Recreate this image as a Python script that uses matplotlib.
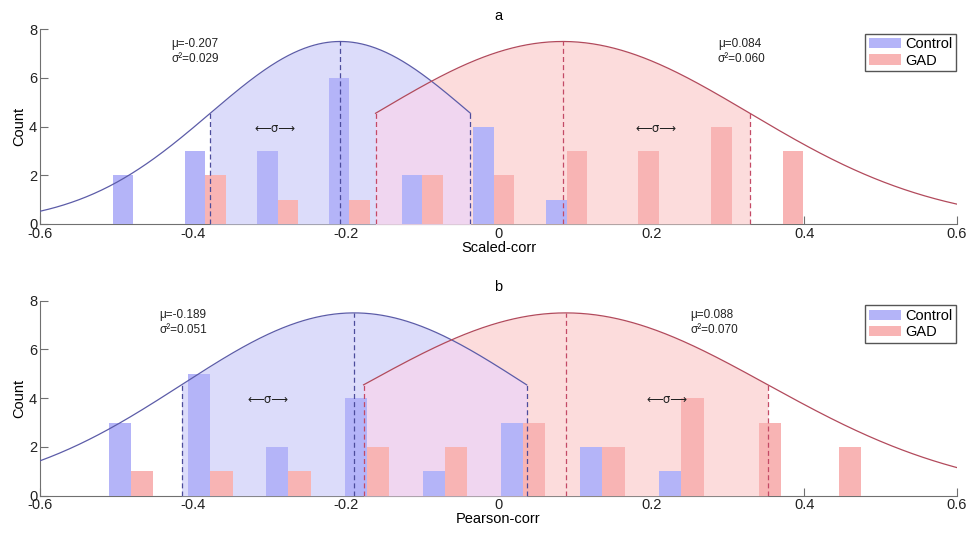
import numpy as np
import matplotlib.pyplot as plt

plt.rcParams['font.family'] = ['Liberation Sans', 'DejaVu Sans']

# panel a: Scaled-corr
a_centers = [-0.478, -0.384, -0.289, -0.195, -0.100, -0.006, 0.089, 0.183, 0.278, 0.372]
a_control = [2, 3, 3, 6, 2, 4, 1, 0, 0, 0]
a_gad = [0, 2, 1, 1, 2, 2, 3, 3, 4, 3]
a_mu = [-0.207, 0.084]
a_var = [0.029, 0.060]

# panel b: Pearson-corr
b_centers = [-0.481, -0.377, -0.275, -0.172, -0.070, 0.032, 0.136, 0.239, 0.341, 0.445]
b_control = [3, 5, 2, 4, 1, 3, 2, 1, 0, 0]
b_gad = [1, 1, 1, 2, 2, 3, 2, 4, 3, 2]
b_mu = [-0.189, 0.088]
b_var = [0.051, 0.070]

groups = ["Control", "GAD"]
peak = 7.5

bar_colors = ["#b4b4f8", "#f8b4b4"]
fill_colors = ["#dcdcfa", "#fcdcdc"]
overlap_color = "#f0d6f0"
line_colors = ["#5c5ca8", "#b24a5c"]
dash_colors = ["#4c4c9c", "#c44a66"]


def gauss(x, m, s):
    return peak * np.exp(-(x - m) ** 2 / (2 * s ** 2))


def draw_panel(ax, centers, control, gad, mus, variances, title, xlabel, text_x):
    centers = np.asarray(centers)
    w = 0.285 * np.diff(centers).mean()
    sig = np.sqrt(variances)
    lo = [m - s for m, s in zip(mus, sig)]
    hi = [m + s for m, s in zip(mus, sig)]

    # shaded +-sigma areas
    for i in range(2):
        xs = np.linspace(lo[i], hi[i], 300)
        ax.fill_between(xs, 0, gauss(xs, mus[i], sig[i]), color=fill_colors[i],
                        lw=0, zorder=1)
    xs = np.linspace(max(lo), min(hi), 300)
    both = np.minimum(gauss(xs, mus[0], sig[0]), gauss(xs, mus[1], sig[1]))
    ax.fill_between(xs, 0, both, color=overlap_color, lw=0, zorder=1.1)

    ax.bar(centers - w / 2, control, w, color=bar_colors[0], label=groups[0], zorder=2)
    ax.bar(centers + w / 2, gad, w, color=bar_colors[1], label=groups[1], zorder=2)

    # fitted curves: control drawn up to mu+sigma, GAD from mu-sigma
    xb = np.linspace(-0.6, hi[0], 400)
    ax.plot(xb, gauss(xb, mus[0], sig[0]), color=line_colors[0], lw=0.9, zorder=3)
    xr = np.linspace(lo[1], 0.6, 400)
    ax.plot(xr, gauss(xr, mus[1], sig[1]), color=line_colors[1], lw=0.9, zorder=3)

    for i in range(2):
        for xv in (lo[i], mus[i], hi[i]):
            ax.plot([xv, xv], [0, gauss(xv, mus[i], sig[i])], color=dash_colors[i],
                    lw=0.9, dashes=(4, 2.5), zorder=3)
        ax.text(text_x[i], 7.66, f"μ={mus[i]:.3f}\nσ²={variances[i]:.3f}",
                fontsize=8.5, va="top", ha="left", linespacing=1.35, color="#222222")
    for xv in (mus[0] - sig[0] / 2, mus[1] + sig[1] / 2):
        ax.text(xv, 3.93, "⟵σ⟶", fontsize=8.5, ha="center", va="center",
                family=["DejaVu Sans"], color="#222222")

    ax.set_xlim(-0.6, 0.6)
    ax.set_ylim(0, 8)
    ax.set_xticks(np.arange(-0.6, 0.61, 0.2))
    ax.set_xticklabels(["-0.6", "-0.4", "-0.2", "0", "0.2", "0.4", "0.6"])
    ax.set_yticks([0, 2, 4, 6, 8])
    ax.set_axisbelow(True)
    for side in ("top", "right"):
        ax.spines[side].set_visible(False)
    for side in ("left", "bottom"):
        ax.spines[side].set_color("#707070")
        ax.spines[side].set_zorder(0.5)
    ax.tick_params(direction="in", length=6, width=0.8, color="#707070",
                   labelsize=10.5, labelcolor="#222222", pad=2)
    ax.set_title(title, fontsize=10.5, pad=7)
    ax.set_xlabel(xlabel, fontsize=10.5, labelpad=0)
    ax.set_ylabel("Count", fontsize=10.5, labelpad=2)
    ax.legend(loc="upper right", bbox_to_anchor=(1.004, 1.0), fontsize=10.5,
              fancybox=False, framealpha=1, edgecolor="#555555", borderpad=0.25,
              handlelength=2.2, handletextpad=0.3, labelspacing=0.15,
              borderaxespad=0.3)


fig = plt.figure(figsize=(9.69, 5.37), dpi=100)
ax1 = fig.add_axes([0.0413, 0.5829, 0.9463, 0.3625])
ax2 = fig.add_axes([0.0413, 0.0769, 0.9463, 0.3631])

draw_panel(ax1, a_centers, a_control, a_gad, a_mu, a_var, "a", "Scaled-corr",
           [-0.428, 0.287])
draw_panel(ax2, b_centers, b_control, b_gad, b_mu, b_var, "b", "Pearson-corr",
           [-0.444, 0.251])

fig.savefig("out.png", dpi=100)
